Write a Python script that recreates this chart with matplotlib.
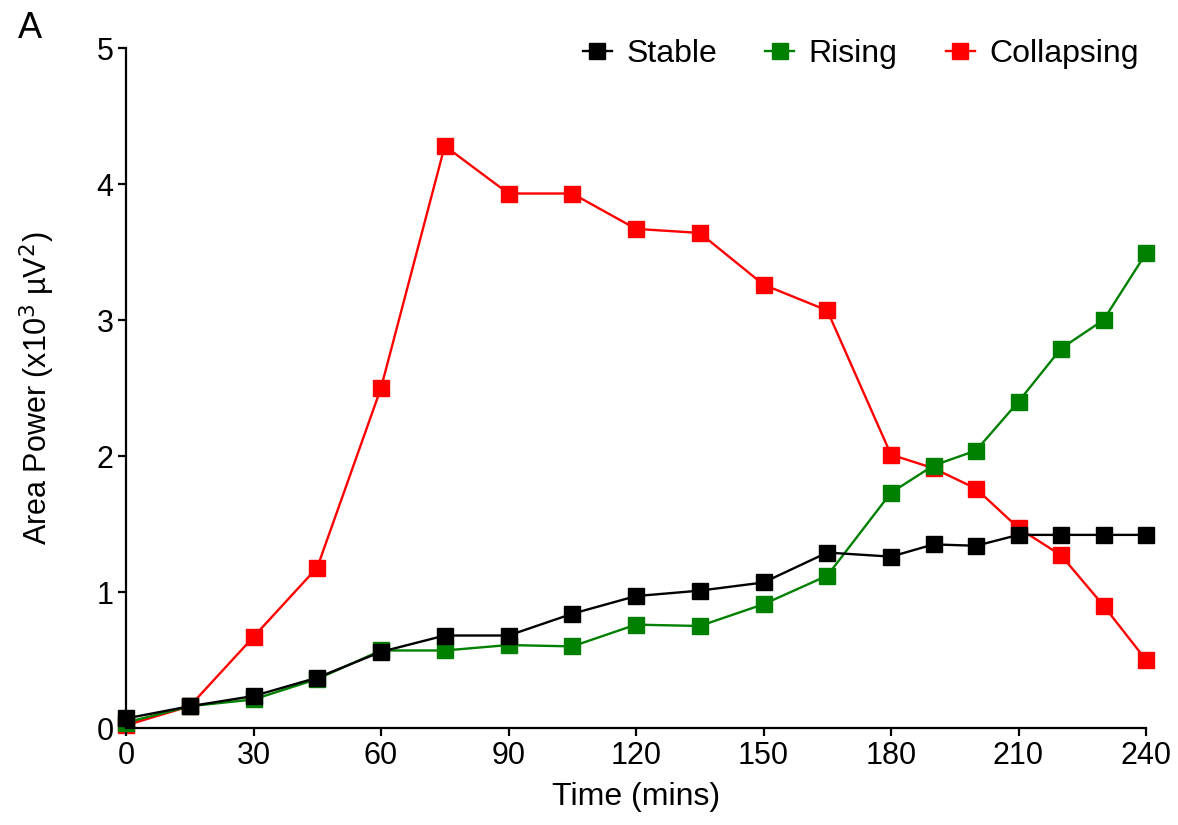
import matplotlib
matplotlib.use("Agg")
import matplotlib.pyplot as plt

plt.rcParams['font.family'] = ['Liberation Sans', 'DejaVu Sans']

time_mins = [0, 15, 30, 45, 60, 75, 90, 105, 120, 135, 150, 165, 180, 190, 200, 210, 220, 230, 240]
stable = [0.07, 0.16, 0.235, 0.37, 0.56, 0.68, 0.68, 0.84, 0.97, 1.01, 1.07, 1.29, 1.26, 1.35, 1.34, 1.42, 1.42, 1.42, 1.42]
rising = [0.04, 0.16, 0.21, 0.36, 0.57, 0.57, 0.61, 0.60, 0.76, 0.75, 0.91, 1.12, 1.73, 1.93, 2.04, 2.40, 2.79, 3.00, 3.49]
collapsing = [0.02, 0.16, 0.67, 1.18, 2.50, 4.28, 3.93, 3.93, 3.67, 3.64, 3.26, 3.07, 2.01, 1.91, 1.76, 1.47, 1.27, 0.90, 0.50]

series = [("Stable", stable, "#000000", 3),
          ("Rising", rising, "#008000", 2),
          ("Collapsing", collapsing, "#ff0000", 1)]

fig = plt.figure(figsize=(11.78, 8.25), dpi=100)
ax = fig.add_axes([126 / 1178, 97 / 825, 1020 / 1178, 680 / 825])

for name, vals, col, z in series:
    ax.plot(time_mins, vals, color=col, marker='s', markersize=11, linewidth=1.7,
            label=name, zorder=z, clip_on=False)

ax.set_xlim(0, 240)
ax.set_ylim(0, 5)
ax.set_xticks([0, 30, 60, 90, 120, 150, 180, 210, 240])
ax.set_yticks([0, 1, 2, 3, 4, 5])
ax.spines['top'].set_visible(False)
ax.spines['right'].set_visible(False)
for s in ('left', 'bottom'):
    ax.spines[s].set_linewidth(1.6)
ax.tick_params(axis='both', direction='out', length=6, width=1.6, labelsize=22, pad=3)

ax.set_xlabel("Time (mins)", fontsize=23, labelpad=8)
ax.set_ylabel("Area Power (x10$^3$ µV$^2$)", fontsize=22, labelpad=28)

ax.legend(loc='upper right', ncol=3, frameon=False, fontsize=23, handlelength=0.9,
          columnspacing=1.52, handletextpad=0.45, bbox_to_anchor=(1.021, 1.055))

fig.text(18 / 1178, 1 - 28 / 825, "A", fontsize=26, va='center', ha='left')

fig.savefig("out.png", dpi=100)
